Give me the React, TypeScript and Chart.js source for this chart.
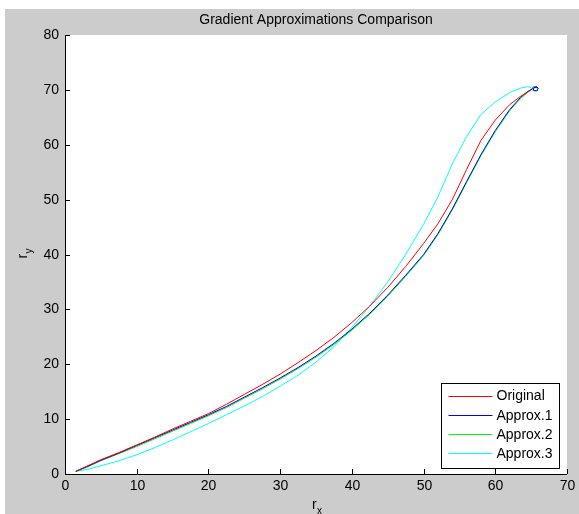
import React, { useEffect, useRef } from "react";
import { Chart, registerables } from "chart.js";

Chart.register(...registerables);

const title = "Gradient Approximations Comparison";
const xTicks = [0, 10, 20, 30, 40, 50, 60, 70];
const yTicks = [0, 10, 20, 30, 40, 50, 60, 70, 80];
const seriesNames = ["Original", "Approx.1", "Approx.2", "Approx.3"];
const seriesColors = ["#ff0000", "#0000ff", "#00ff00", "#00ffff"];

const origX = [1.5, 3, 5, 7.5, 10, 12.5, 15, 17.5, 20, 22.5, 25, 27.5, 30, 32.5, 35, 37.5, 40, 42.5, 45, 47.5, 50, 52, 54, 56, 58, 60, 62, 63.5, 64.5, 65];
const origY = [0.5, 1.4, 2.6, 3.9, 5.3, 6.7, 8.2, 9.6, 11.0, 12.7, 14.5, 16.3, 18.2, 20.3, 22.5, 24.9, 27.6, 30.6, 34.0, 37.8, 42.0, 45.6, 50.0, 55.5, 60.8, 64.5, 67.3, 68.8, 69.6, 70.0];

const a1X = [1.5, 3, 5, 7.5, 10, 12.5, 15, 17.5, 20, 22.5, 25, 27.5, 30, 32.5, 35, 37.5, 40, 42.5, 45, 47.5, 50, 52, 54, 56, 58, 60, 62, 63.5, 64.5, 65.2, 65.7, 66.0, 65.8, 65.3, 65.4, 65.9];
const a1Y = [0.5, 1.3, 2.5, 3.8, 5.2, 6.6, 8.0, 9.4, 10.8, 12.3, 14.0, 15.7, 17.5, 19.4, 21.5, 23.8, 26.4, 29.3, 32.6, 36.2, 40.0, 43.8, 48.3, 53.3, 58.2, 62.6, 66.4, 68.6, 69.7, 70.2, 70.6, 70.3, 69.8, 69.9, 70.5, 70.4];

const a2X = [1.5, 3, 5, 7.5, 10, 12.5, 15, 17.5, 20, 22.5, 25, 27.5, 30, 32.5, 35, 37.5, 40, 42.5, 45, 47.5, 50, 52, 54, 56, 58, 60, 62, 63.5, 64.5, 65.0, 65.3, 65.8, 65.9, 65.4];
const a2Y = [0.4, 1.2, 2.4, 3.7, 5.0, 6.4, 7.8, 9.2, 10.6, 12.1, 13.8, 15.5, 17.3, 19.2, 21.3, 23.6, 26.2, 29.1, 32.4, 36.0, 39.8, 43.6, 48.1, 53.1, 58.0, 62.4, 66.2, 68.4, 69.5, 70.1, 70.6, 70.5, 70.0, 69.8];

const a3X = [1.5, 3, 5, 7.5, 10, 12.5, 15, 17.5, 20, 22.5, 25, 27.5, 30, 32.5, 35, 37.5, 40, 42.5, 45, 47.5, 50, 52, 54, 56, 58, 60, 62, 63.5, 64.5, 65];
const a3Y = [0.5, 0.8, 1.5, 2.4, 3.5, 4.8, 6.2, 7.7, 9.2, 10.8, 12.4, 14.1, 16.0, 18.0, 20.4, 23.2, 26.7, 30.6, 35.0, 40.0, 45.5, 50.5, 56.5, 61.5, 65.5, 67.8, 69.5, 70.3, 70.6, 70.4];

const seriesX = [origX, a1X, a2X, a3X];
const seriesY = [origY, a1Y, a2Y, a3Y];

const FONT = "'Liberation Sans', Arial, sans-serif";

const decor = {
  id: "decor",
  beforeDraw(chart: any) {
    const { ctx, chartArea: ca, width, height } = chart;
    ctx.save();
    ctx.fillStyle = "#cccccc";
    ctx.fillRect(0, 0, width, height);
    ctx.fillStyle = "#ffffff";
    ctx.fillRect(ca.left, ca.top, ca.right - ca.left, ca.bottom - ca.top);
    ctx.restore();
  },
  afterDraw(chart: any) {
    const { ctx, chartArea: ca } = chart;
    const xs = chart.scales.x;
    const ys = chart.scales.y;
    ctx.save();
    ctx.strokeStyle = "#000000";
    ctx.lineWidth = 1;
    ctx.beginPath();
    ctx.moveTo(Math.round(ca.left) + 0.5, ca.top);
    ctx.lineTo(Math.round(ca.left) + 0.5, Math.round(ca.bottom) + 0.5);
    ctx.lineTo(ca.right, Math.round(ca.bottom) + 0.5);
    ctx.stroke();
    ctx.fillStyle = "#000000";
    ctx.font = `14px ${FONT}`;
    ctx.textAlign = "center";
    ctx.textBaseline = "top";
    for (const v of xTicks) {
      const px = Math.round(xs.getPixelForValue(v)) + 0.5;
      ctx.beginPath();
      ctx.moveTo(px, ca.bottom);
      ctx.lineTo(px, ca.bottom - 5);
      ctx.stroke();
      ctx.fillText(String(v), px, ca.bottom + 5);
    }
    ctx.textAlign = "right";
    ctx.textBaseline = "middle";
    for (const v of yTicks) {
      const py = Math.round(ys.getPixelForValue(v)) + 0.5;
      ctx.beginPath();
      ctx.moveTo(ca.left, py);
      ctx.lineTo(ca.left + 5, py);
      ctx.stroke();
      ctx.fillText(String(v), ca.left - 6, py);
    }
    // title
    ctx.textAlign = "center";
    ctx.textBaseline = "alphabetic";
    ctx.fillText(title, (ca.left + ca.right) / 2, ca.top - 11);
    // x label
    const cx = (ca.left + ca.right) / 2;
    ctx.textAlign = "left";
    ctx.font = `14px ${FONT}`;
    ctx.fillText("r", cx - 4, ca.bottom + 35);
    ctx.font = `10px ${FONT}`;
    ctx.fillText("x", cx + 1, ca.bottom + 40);
    // y label
    const cy = (ca.top + ca.bottom) / 2;
    ctx.save();
    ctx.translate(ca.left - 38, cy + 4);
    ctx.rotate(-Math.PI / 2);
    ctx.font = `14px ${FONT}`;
    ctx.fillText("r", 0, 0);
    ctx.font = `10px ${FONT}`;
    ctx.fillText("y", 5, 5);
    ctx.restore();
    // legend
    const bx = 436.5, by = 374.5, bw = 118, bh = 85;
    ctx.fillStyle = "#ffffff";
    ctx.fillRect(bx, by, bw, bh);
    ctx.strokeStyle = "#000000";
    ctx.strokeRect(bx, by, bw, bh);
    ctx.font = `14px ${FONT}`;
    ctx.textAlign = "left";
    ctx.textBaseline = "middle";
    seriesNames.forEach((name, i) => {
      const ry = by + 12 + i * 19.3;
      ctx.strokeStyle = seriesColors[i];
      ctx.beginPath();
      ctx.moveTo(bx + 7, Math.round(ry) + 0.5);
      ctx.lineTo(bx + 51, Math.round(ry) + 0.5);
      ctx.stroke();
      ctx.fillStyle = "#000000";
      ctx.fillText(name, bx + 55, ry + 1);
    });
    ctx.restore();
  },
};

export default function App() {
  const ref = useRef<HTMLCanvasElement | null>(null);
  useEffect(() => {
    document.body.style.margin = "0";
    const datasets = seriesNames.map((name, i) => ({
      label: name,
      data: seriesX[i].map((x, j) => ({ x, y: seriesY[i][j] })),
      borderColor: seriesColors[i],
      backgroundColor: seriesColors[i],
      borderWidth: 1,
      pointRadius: 0,
      showLine: true,
      tension: 0,
      fill: false,
    }));
    const chart = new Chart(ref.current as HTMLCanvasElement, {
      type: "scatter",
      data: { datasets },
      options: {
        animation: false,
        responsive: false,
        maintainAspectRatio: false,
        layout: { padding: { left: 60, right: 12, top: 26, bottom: 40 } },
        plugins: { legend: { display: false }, title: { display: false }, tooltip: { enabled: false } },
        scales: {
          x: { type: "linear", min: 0, max: 70, display: false },
          y: { type: "linear", min: 0, max: 80, display: false },
        },
      },
      plugins: [decor],
    });
    return () => chart.destroy();
  }, []);
  return (
    <div style={{ position: "absolute", left: 5, top: 9, width: 574, height: 505 }}>
      <canvas ref={ref} width={574} height={505} style={{ display: "block" }} />
    </div>
  );
}
